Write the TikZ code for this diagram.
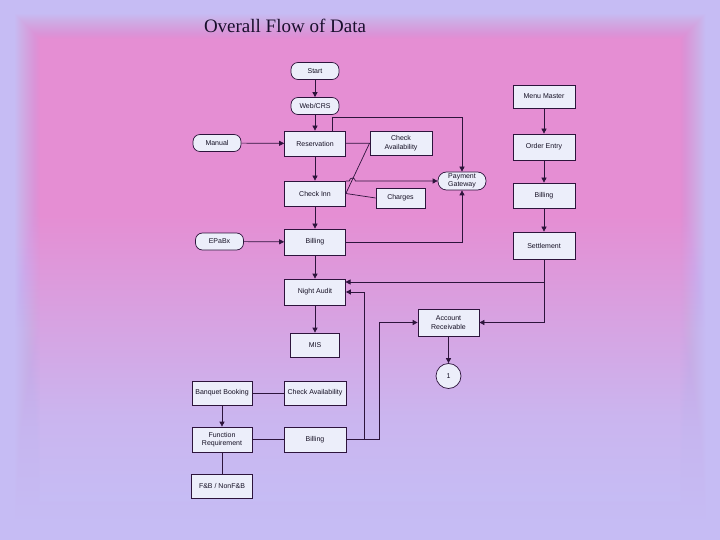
\documentclass[tikz,border=0pt]{standalone}
\usepackage{fontspec}
\setmainfont{Liberation Serif}
\setsansfont{Liberation Sans}
\usetikzlibrary{arrows.meta}
\definecolor{lav}{RGB}{198,188,244}
\definecolor{pinkbg}{RGB}{229,142,211}
\definecolor{boxfill}{RGB}{236,238,250}
\definecolor{linec}{RGB}{45,20,60}
\definecolor{txt}{RGB}{20,15,35}
\pgfdeclareverticalshading{bgshade}{100bp}{color(0bp)=(lav); color(25bp)=(lav); color(34bp)=(lav!85!pinkbg); color(56bp)=(pinkbg); color(100bp)=(pinkbg)}
\tikzset{
  base/.style={draw=linec, line width=0.7pt, fill=boxfill, text=txt,
    font=\sffamily\fontsize{7}{8.5}\selectfont, align=center, inner sep=0pt},
  box/.style={base, rectangle, minimum width=61pt, minimum height=25pt},
  term/.style={base, rounded corners=7pt, minimum width=48pt, minimum height=17pt},
  conn/.style={draw=linec, line width=0.7pt},
  arr/.style={conn, -{Triangle[length=5pt,width=5pt]}},
}
\begin{document}
\begin{tikzpicture}[x=1pt,y=-1pt]
\useasboundingbox (0,0) rectangle (720,540);
\fill[lav] (0,0) rectangle (720,540);
\foreach \k in {1,...,26}{
  \pgfmathsetmacro\op{1/(27-\k)}
  \pgfmathsetmacro\ins{14+\k}
  \shade[shading=bgshade, opacity=\op] (\ins,\ins) rectangle (720-\ins,540-\ins);
}

\node[anchor=base, text={rgb,255:red,25;green,15;blue,45}, font=\fontsize{19}{22}\selectfont] (title) at (285,33) {Overall Flow of Data};

% left column
\node[term] (start) at (315,71) {Start};
\node[term] (web) at (315,106) {Web/CRS};
\node[box] (res) at (315,143.5) {Reservation};
\node[term] (manual) at (217,143) {Manual};
\node[box, minimum width=62pt, minimum height=24pt] (ca1) at (401,143) {Check\\Availability};
\node[box] (checkinn) at (315,193.5) {Check Inn};
\node[box, minimum width=49pt, minimum height=20pt] (charges) at (400.5,198) {Charges};
\node[base, rounded corners=8.5pt, minimum width=48pt, minimum height=18pt] (pg) at (462,181) {Payment\\Gateway};
\node[term] (epabx) at (219.5,241.5) {EPaBx};
\node[box, minimum height=26pt] (bill1) at (315,242) {Billing};
\node[box, minimum height=26pt] (night) at (315,292) {Night Audit};
\node[box, minimum width=49pt, minimum height=24pt] (mis) at (315,345) {MIS};

% right column
\node[box, minimum width=62pt, minimum height=23pt] (menu) at (544,96.5) {Menu Master};
\node[box, minimum width=62pt, minimum height=26pt] (order) at (544,147) {Order Entry};
\node[box, minimum width=62pt, minimum height=25pt] (bill2) at (544,195.5) {Billing};
\node[box, minimum width=62pt, minimum height=27pt] (settle) at (544,245.5) {Settlement};
\node[box, minimum width=61pt, minimum height=27pt] (acr) at (448.5,322.5) {Account\\Receivable};
\node[base, circle, minimum size=25pt] (one) at (448.5,376) {1};

% banquet
\node[box, minimum width=60pt, minimum height=24pt] (banquet) at (222,393) {Banquet Booking};
\node[box, minimum width=62pt, minimum height=24pt] (ca2) at (315,393) {Check Availability};
\node[box, minimum width=60pt, minimum height=25pt] (func) at (222,439.5) {Function\\Requirement};
\node[box, minimum width=62pt, minimum height=25pt] (bill3) at (315,439.5) {Billing};
\node[box, minimum width=61pt, minimum height=24pt] (fnb) at (222,486) {F\&B / NonF\&B};

\coordinate (nA) at (345.5,282);

% connectors
\draw[arr] (start) -- (web);
\draw[arr] (web) -- (res);
\draw[arr] (manual) -- (res);
\draw[arr] (res) -- (checkinn);
\draw[conn] (res) -- (ca1);
\draw[arr] ([xshift=17pt]res.north) -- ++(0,-13) -| (pg.north);
\draw[conn] (ca1.west) -- (checkinn.east);
\draw[arr] (checkinn.east |- pg.west) -- ++(3.5,0) arc[start angle=180, end angle=360, radius=3] -- (pg.west);
\draw[conn] (checkinn.east) -- (charges.west);
\draw[arr] (checkinn) -- (bill1);
\draw[arr] (epabx) -- (bill1);
\draw[arr] (bill1.east) -| (pg.south);
\draw[arr] (bill1) -- (night);
\draw[arr] (menu) -- (order);
\draw[arr] (order) -- (bill2);
\draw[arr] (bill2) -- (settle);
\draw[arr] (settle.south) |- (acr.east);
\draw[arr] (settle.south |- nA) -- (nA);
\draw[arr] (bill3.east) -- ++(18,0) |- (night.east);
\draw[arr] (bill3.east) -- ++(33,0) |- (acr.west);
\draw[arr] (night) -- (mis);
\draw[arr] (acr) -- (one);
\draw[conn] (banquet) -- (ca2);
\draw[arr] (banquet) -- (func);
\draw[conn] (func) -- (bill3);
\draw[conn] (func) -- (fnb);
\end{tikzpicture}
\end{document}
